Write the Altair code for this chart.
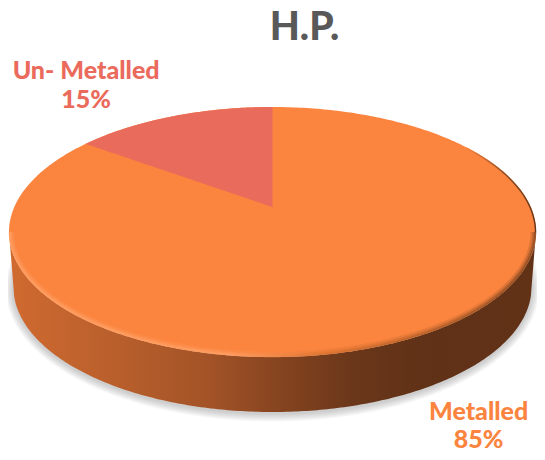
import numpy as np
import pandas as pd
import altair as alt

categories = ["Metalled", "Un- Metalled"]
shares = [85, 15]
label_colors = ["#FB843F", "#EA6B5C"]
label_x = [484, 87]
label_name_y = [412, 71]
label_pct_y = [440, 100]

# page-pixel frame
W, H = 529, 400
X0 = 8
X1 = 543
Y0 = 52
xs = alt.Scale(domain=[X0, X1], nice=False, zero=False)
ys = alt.Scale(domain=[Y0 + H, Y0], nice=False, zero=False)

# 3D disc geometry
CX, TOP_CY, RX, RY = 275.5, 232.0, 266.5, 125.0
BOT_CY, BOT_RX = 287.0, 262.0
PIE_CY = 207.0
K, A, B = 0.2, 261.0, 120.0


def X(name, **kw):
    return alt.X(name, type="quantitative", scale=xs, axis=None, **kw)


def Y(name, **kw):
    return alt.Y(name, type="quantitative", scale=ys, axis=None, **kw)


def area(df, **mark):
    return alt.Chart(df).mark_area(**mark).encode(X("x"), Y("y"), alt.Y2("y2"))


def line(df, **mark):
    return alt.Chart(df).mark_line(**mark).encode(X("x", sort=None), Y("y"))


t = np.linspace(-np.pi / 2, np.pi / 2, 241)
sx = np.sin(t)
cx = np.cos(t)
top_x = CX + RX * sx
top_up = TOP_CY - RY * cx
top_lo = TOP_CY + RY * cx

# soft shadow below the disc
shadow_layers = []
for k in range(1, 10):
    rx = BOT_RX + k * 0.9
    ry = RY + k * 0.9
    cy = BOT_CY + 1.5
    df = pd.DataFrame({"x": CX + rx * sx, "y": cy + ry * cx, "y2": cy - ry * cx})
    shadow_layers.append(area(df, color="#6f6f6f", opacity=0.045))

# rim: between the lower edge of the top face and the bottom ellipse
rim_x = top_x
dx = rim_x - CX
inside = np.abs(dx) <= BOT_RX
rim_lo = np.where(
    inside,
    BOT_CY + RY * np.sqrt(np.clip(1 - (dx / BOT_RX) ** 2, 0, 1)),
    TOP_CY + (BOT_CY - TOP_CY) * (RX - np.abs(dx)) / (RX - BOT_RX),
)
rim_df = pd.DataFrame({"x": rim_x, "y": top_lo, "y2": rim_lo})
rim_grad = alt.Gradient(
    gradient="linear", x1=0, x2=1, y1=0, y2=0,
    stops=[
        alt.GradientStop(color="#D06A30", offset=0.0),
        alt.GradientStop(color="#B95F2C", offset=0.2),
        alt.GradientStop(color="#A35327", offset=0.38),
        alt.GradientStop(color="#84431F", offset=0.52),
        alt.GradientStop(color="#6B371A", offset=0.65),
        alt.GradientStop(color="#5F3116", offset=0.8),
        alt.GradientStop(color="#623217", offset=1.0),
    ],
)
rim = alt.Chart(rim_df).mark_area(fill=rim_grad).encode(X("x"), Y("y"), alt.Y2("y2"))

# top face
top_df = pd.DataFrame({"x": top_x, "y": top_up, "y2": top_lo})
top = area(top_df, color="#FB843F")


# wedge: the smaller share, clockwise up to twelve o'clock
def face_point(phi):
    u, v = np.sin(phi), np.cos(phi)
    d = 1 + K * v
    return CX + A * u / d, PIE_CY - B * v / d


phi_end = 2 * np.pi * shares[1] / sum(shares)
phis = np.linspace(0, phi_end, 80)
wx, wy = face_point(-phis)
centre_x = CX
frac = (centre_x - wx) / (centre_x - wx[-1])
wy2 = PIE_CY + (wy[-1] - PIE_CY) * frac
wedge_df = pd.DataFrame({"x": wx, "y": wy, "y2": wy2}).sort_values("x")
wedge = area(wedge_df, color="#E96B5B")

# light and dark edge bevels
glow = alt.Gradient(
    gradient="linear", x1=0, x2=1, y1=0, y2=0,
    stops=[
        alt.GradientStop(color="#FF9F63", offset=0.0),
        alt.GradientStop(color="#FF9F63", offset=0.42),
        alt.GradientStop(color="#D9722F", offset=0.6),
        alt.GradientStop(color="#8A4A22", offset=1.0),
    ],
)
bevels = []
for inset, width, op in [(3.5, 4, 0.25), (2, 3, 0.45), (0.8, 2, 0.8)]:
    df = pd.DataFrame({"x": CX + (RX - inset) * sx, "y": TOP_CY + (RY - inset) * cx})
    bevels.append(line(df, stroke=glow, strokeWidth=width, opacity=op))

fade = alt.Gradient(
    gradient="linear", x1=0, x2=1, y1=0, y2=0,
    stops=[
        alt.GradientStop(color="#FB843F", offset=0.0),
        alt.GradientStop(color="#8A4A22", offset=0.6),
        alt.GradientStop(color="#6B371A", offset=1.0),
    ],
)
dark_mask = top_x > 470
upper_df = pd.DataFrame({"x": top_x[dark_mask] - 0.5, "y": top_up[dark_mask] + 0.5})
upper_edge = line(upper_df, stroke=fade, strokeWidth=1.5)

# labels
label_df = pd.DataFrame({
    "x": label_x * 2,
    "y": label_name_y + label_pct_y,
    "text": categories + [f"{s}%" for s in shares],
    "c": label_colors * 2,
})
labels = alt.Chart(label_df).mark_text(
    font="Lato", fontWeight=900, fontSize=25, align="center", baseline="middle"
).encode(
    X("x"), Y("y"), alt.Text("text:N"),
    alt.Color("c:N", scale=None),
)

chart = alt.layer(*shadow_layers, rim, top, wedge, *bevels, upper_edge, labels).properties(
    width=W,
    height=H,
    autosize=alt.AutoSizeParams(type="none"),
    padding={"left": 0, "top": 44, "right": 0, "bottom": 0},
    title=alt.TitleParams(
        text="H.P.", font="Lato", fontWeight=900, fontSize=39, color="#595959",
        anchor="middle", dx=32, offset=4,
    ),
).configure_view(stroke=None)

chart.save("out.html", embed_options={"renderer": "svg", "actions": False})
